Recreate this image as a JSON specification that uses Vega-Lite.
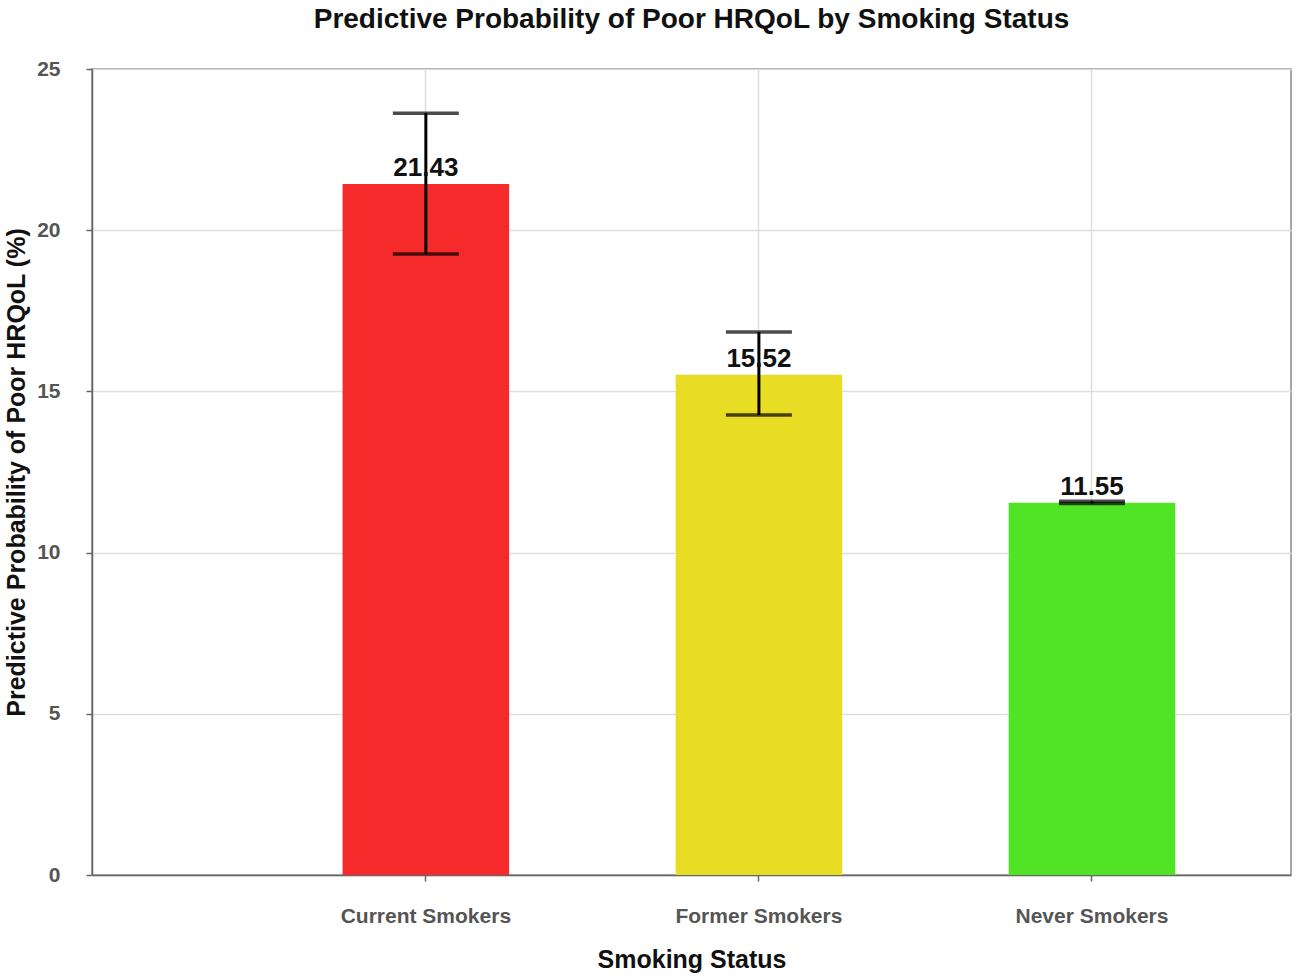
{
  "$schema": "https://vega.github.io/schema/vega-lite/v6.json",
  "width": 1199,
  "height": 806,
  "autosize": {"type": "none"},
  "padding": {"left": 92, "top": 69, "right": 8, "bottom": 103},
  "background": "white",
  "title": {
    "text": "Predictive Probability of Poor HRQoL by Smoking Status",
    "fontSize": 28,
    "font": "Liberation Sans",
    "fontWeight": "bold",
    "color": "#111",
    "offset": 24,
    "anchor": "middle"
  },
  "data": {
    "values": [
      {"status": "Current Smokers", "prob": 21.43, "lower": 19.26, "upper": 23.63},
      {"status": "Former Smokers", "prob": 15.52, "lower": 14.27, "upper": 16.84},
      {"status": "Never Smokers", "prob": 11.55, "lower": 11.52, "upper": 11.59}
    ]
  },
  "encoding": {
    "x": {
      "field": "status",
      "type": "nominal",
      "sort": null,
      "title": "Smoking Status",
      "scale": {"paddingInner": 0.5, "paddingOuter": 0.55, "align": 0.684},
      "axis": {
        "labelAngle": 0,
        "labelPadding": 24,
        "titlePadding": 21,
        "grid": true,
        "bandPosition": 0.5,
        "tickBand": "center"
      }
    }
  },
  "layer": [
    {
      "mark": {"type": "bar"},
      "encoding": {
        "y": {
          "field": "prob",
          "type": "quantitative",
          "title": "Predictive Probability of Poor HRQoL (%)",
          "scale": {"domain": [0, 25], "nice": false},
          "axis": {"values": [0, 5, 10, 15, 20, 25], "labelPadding": 26, "titlePadding": 7}
        },
        "color": {
          "field": "status",
          "type": "nominal",
          "scale": {
            "domain": ["Current Smokers", "Former Smokers", "Never Smokers"],
            "range": ["#F42A2B", "#E8DC24", "#50E326"]
          },
          "legend": null
        }
      }
    },
    {
      "mark": {"type": "rule", "color": "black", "strokeWidth": 3},
      "encoding": {
        "y": {"field": "lower", "type": "quantitative"},
        "y2": {"field": "upper"}
      }
    },
    {
      "mark": {"type": "tick", "color": "black", "size": 66, "thickness": 3.5, "orient": "horizontal"},
      "encoding": {"y": {"field": "lower", "type": "quantitative"}}
    },
    {
      "mark": {"type": "tick", "color": "black", "size": 66, "thickness": 3.5, "orient": "horizontal"},
      "encoding": {"y": {"field": "upper", "type": "quantitative"}}
    },
    {
      "mark": {
        "type": "text",
        "baseline": "bottom",
        "dy": -3,
        "fontSize": 26,
        "fontWeight": "bold",
        "font": "Liberation Sans",
        "color": "#111"
      },
      "encoding": {
        "y": {"field": "prob", "type": "quantitative"},
        "text": {"field": "prob", "type": "quantitative", "format": ".2f"}
      }
    }
  ],
  "config": {
    "view": {"stroke": "#888", "strokeWidth": 1.5},
    "axis": {
      "labelFont": "Liberation Sans",
      "titleFont": "Liberation Sans",
      "labelFontSize": 21,
      "labelFontWeight": "bold",
      "labelColor": "#555",
      "titleFontSize": 25,
      "titleFontWeight": "bold",
      "titleColor": "#111",
      "gridColor": "#dedede",
      "gridWidth": 1.5,
      "domainColor": "#666",
      "domainWidth": 1.5,
      "tickColor": "#666",
      "tickSize": 6,
      "tickWidth": 1.5
    }
  }
}
